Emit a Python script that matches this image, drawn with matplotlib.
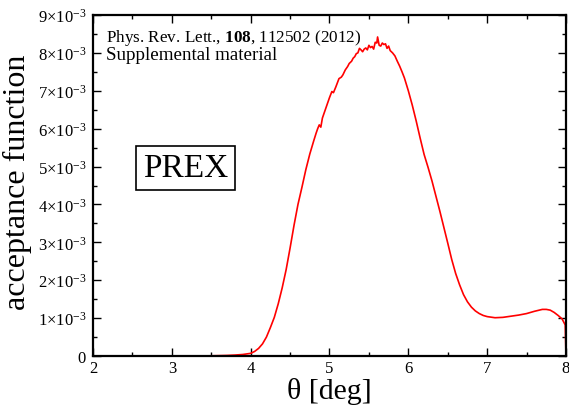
import matplotlib
matplotlib.use('Agg')
from matplotlib import pyplot as plt
from matplotlib.ticker import MultipleLocator
import numpy as np

plt.rcParams['font.family'] = ['Liberation Serif', 'DejaVu Serif']
plt.rcParams['mathtext.fontset'] = 'custom'
plt.rcParams['mathtext.rm'] = 'Liberation Serif'
plt.rcParams['mathtext.it'] = 'Liberation Serif:italic'
plt.rcParams['mathtext.bf'] = 'Liberation Serif:bold'

# acceptance vs scattering angle (values in units of 1e-3)
theta = [2.0, 2.5, 3.0, 3.3, 3.5, 3.6, 3.7, 3.8, 3.9, 4.0,
         4.05, 4.1, 4.15, 4.2, 4.25, 4.3, 4.35, 4.4, 4.45, 4.5,
         4.55, 4.6, 4.65, 4.7, 4.75, 4.8, 4.83, 4.85, 4.87, 4.89,
         4.91, 4.95, 5.0, 5.03, 5.05, 5.08, 5.12, 5.15, 5.17, 5.2,
         5.23, 5.25, 5.28, 5.3, 5.32, 5.34, 5.36, 5.38, 5.4, 5.42,
         5.44, 5.46, 5.48, 5.5, 5.52, 5.54, 5.56, 5.58, 5.6, 5.61,
         5.63, 5.65, 5.67, 5.69, 5.71, 5.73, 5.75, 5.77, 5.8, 5.83,
         5.86, 5.89, 5.92, 5.95, 6.0, 6.05, 6.1, 6.15, 6.2, 6.25,
         6.3, 6.35, 6.4, 6.45, 6.5, 6.55, 6.6, 6.65, 6.7, 6.75,
         6.8, 6.85, 6.9, 6.95, 7.0, 7.1, 7.2, 7.3, 7.4, 7.5,
         7.6, 7.7, 7.75, 7.8, 7.85, 7.9, 7.95, 7.99, 8.0]
acc = [0.0, 0.0, 0.0, 0.002, 0.005, 0.01, 0.015, 0.025, 0.04, 0.07,
       0.12, 0.2, 0.32, 0.5, 0.75, 1.02, 1.38, 1.80, 2.28, 2.85,
       3.45, 4.0, 4.45, 4.92, 5.33, 5.68, 5.88, 6.0, 6.1, 6.04,
       6.28, 6.52, 6.82, 6.98, 6.95, 7.10, 7.32, 7.36, 7.42, 7.55,
       7.64, 7.72, 7.78, 7.86, 7.90, 7.98, 8.00, 8.12, 8.08, 8.03,
       8.10, 8.13, 8.08, 8.20, 8.14, 8.17, 8.10, 8.28, 8.26, 8.42,
       8.20, 8.18, 8.26, 8.22, 8.24, 8.12, 8.18, 8.06, 8.00, 7.92,
       7.78, 7.65, 7.50, 7.34, 7.00, 6.62, 6.20, 5.75, 5.32, 4.98,
       4.62, 4.22, 3.82, 3.40, 2.98, 2.55, 2.18, 1.88, 1.62, 1.43,
       1.29, 1.19, 1.12, 1.07, 1.04, 1.01, 1.02, 1.05, 1.08, 1.12,
       1.18, 1.23, 1.23, 1.21, 1.15, 1.07, 0.98, 0.82, 0.0]

y_ticks = [0, 1, 2, 3, 4, 5, 6, 7, 8, 9]
y_labels = ['0'] + [r'$%d{\times}10^{-3}$' % k for k in y_ticks[1:]]

fig = plt.figure(figsize=(5.69, 4.06), dpi=100)
ax = fig.add_axes([93/569, 1 - 357/406, 473/569, 341/406])

ax.plot(theta, np.array(acc) * 1e-3, color='red', lw=1.2)

ax.set_xlim(2, 8)
ax.set_ylim(0, 9e-3)
ax.xaxis.set_major_locator(MultipleLocator(1))
ax.xaxis.set_minor_locator(MultipleLocator(0.5))
ax.set_yticks(np.array(y_ticks) * 1e-3)
ax.set_yticklabels(y_labels)
ax.yaxis.set_minor_locator(MultipleLocator(0.5e-3))

ax.tick_params(which='both', direction='in', top=True, right=True, width=1.0, labelsize=12)
ax.tick_params(which='major', length=6, pad=5)
ax.tick_params(axis='x', which='major', pad=3)
ax.tick_params(which='minor', length=3)
for s in ax.spines.values():
    s.set_linewidth(1.6)

ax.set_xlabel(r'θ [deg]', fontsize=21.5)
ax.set_ylabel('acceptance function', fontsize=23)
ax.xaxis.set_label_coords(0.5, -0.062)
ax.yaxis.set_label_coords(-0.129, 0.513)

ax.text(0.0275, 0.924, r'Phys. Rev. Lett., $\mathbf{108}$, 112502 (2012)',
        transform=ax.transAxes, fontsize=12.3, va='baseline')
ax.text(0.0275, 0.87, 'Supplemental material',
        transform=ax.transAxes, fontsize=13.7, va='baseline')
ax.text(0.196, 0.551, 'PREX', transform=ax.transAxes, fontsize=24,
        ha='center', va='center',
        bbox=dict(boxstyle='square,pad=0.2', fc='white', ec='black', lw=1.2))

fig.savefig('out.png', dpi=100)
